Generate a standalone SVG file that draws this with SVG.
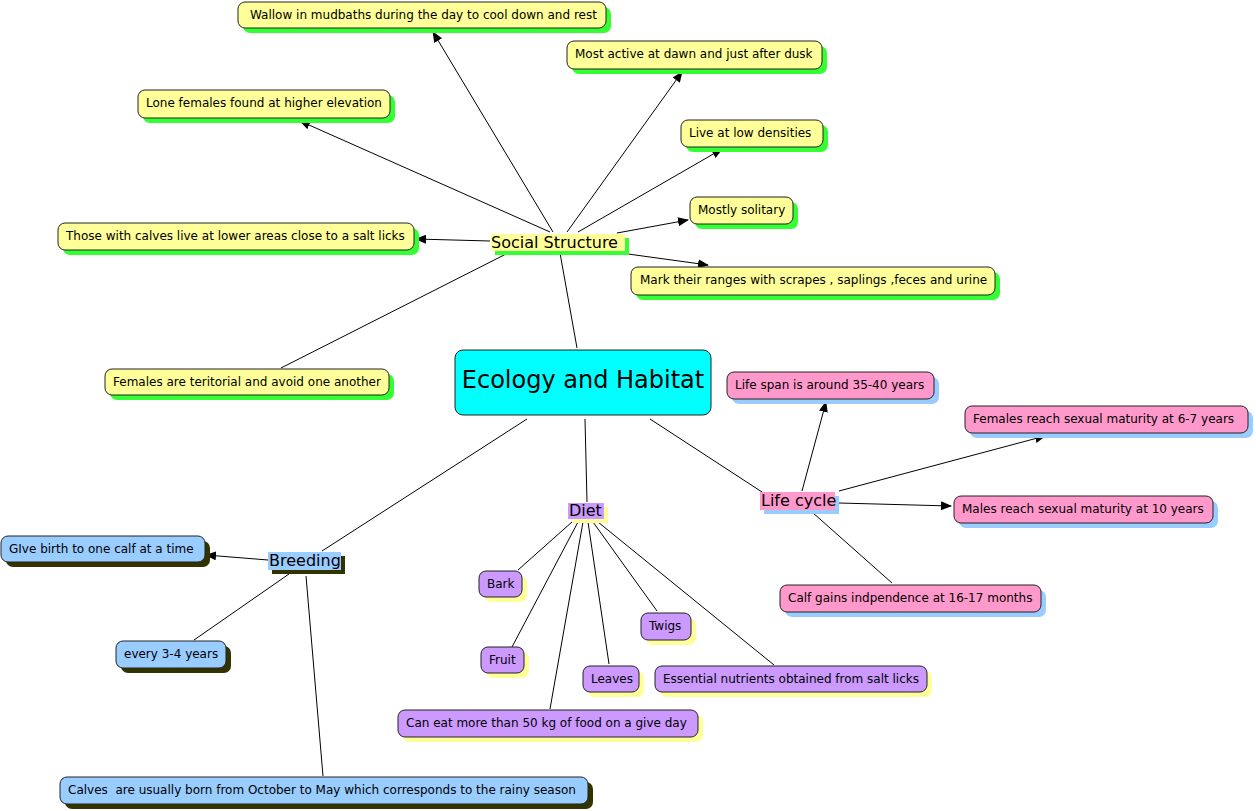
<svg xmlns="http://www.w3.org/2000/svg" width="1256" height="811" viewBox="0 0 1256 811">
<defs>
<marker id="arr" markerWidth="11" markerHeight="9" refX="10" refY="4.5" orient="auto" markerUnits="userSpaceOnUse">
<path d="M0,0 L11,4.5 L0,9 z" fill="#000"/>
</marker>
<style>
text{font-family:"DejaVu Sans","Verdana",sans-serif;fill:#000}
.t{font-size:12px}
.lbl{font-size:16px}
.main{font-size:24px}
.box{stroke:#222;stroke-width:1}
.y{fill:#FFFF99}.ys{fill:#33FF33}
.p{fill:#FF99CC}.ps{fill:#99CCFF}
.v{fill:#CC99FF}.vs{fill:#FFFF99}
.b{fill:#99CCFF}.bs{fill:#333300}
.c line{stroke:#000;stroke-width:1}
.c .a{marker-end:url(#arr)}
</style>
</defs>
<rect width="1256" height="811" fill="#fff"/>
<g class="c" id="connectors">
<line class="a" x1="553" y1="232" x2="433" y2="32"/>
<line class="a" x1="567" y1="232" x2="682" y2="72"/>
<line class="a" x1="550" y1="232" x2="300" y2="121"/>
<line class="a" x1="578" y1="232" x2="722" y2="149"/>
<line class="a" x1="617" y1="233" x2="688" y2="220"/>
<line class="a" x1="490" y1="241" x2="416" y2="239"/>
<line class="a" x1="628" y1="254" x2="708" y2="265"/>
<line x1="508" y1="253" x2="281" y2="368"/>
<line x1="560" y1="253" x2="577" y2="348"/>
<line x1="527" y1="419" x2="322" y2="551"/>
<line x1="585" y1="419" x2="587" y2="502"/>
<line x1="650" y1="419" x2="762" y2="492"/>
<line class="a" x1="802" y1="491" x2="826" y2="402"/>
<line class="a" x1="839" y1="491" x2="1045" y2="436"/>
<line class="a" x1="839" y1="503" x2="951" y2="506"/>
<line x1="812" y1="512" x2="892" y2="583"/>
<line x1="572" y1="522" x2="518" y2="570"/>
<line x1="578" y1="522" x2="512" y2="647"/>
<line x1="583" y1="522" x2="550" y2="709"/>
<line x1="588" y1="522" x2="609" y2="664"/>
<line x1="593" y1="522" x2="657" y2="611"/>
<line x1="598" y1="522" x2="774" y2="665"/>
<line class="a" x1="268" y1="560" x2="206" y2="555"/>
<line x1="289" y1="574" x2="194" y2="640"/>
<line x1="306" y1="576" x2="323" y2="776"/>
</g>
<g id="central">
<rect class="box" x="455" y="350" width="256" height="65" rx="8" fill="#00FFFF"/>
<text class="main" x="583" y="388" text-anchor="middle">Ecology and Habitat</text>
</g>
<g id="social-structure">
<rect class="ys" x="495" y="238" width="134" height="17"/>
<rect class="y" x="491" y="234" width="134" height="17"/>
<text class="lbl" x="491" y="248">Social Structure</text>
</g>
<g id="wallow">
<rect class="ys" x="243" y="7" width="368" height="26" rx="7"/>
<rect class="y box" x="238" y="2" width="368" height="26" rx="7"/>
<text class="t" x="250" y="19">Wallow in mudbaths during the day to cool down and rest</text>
</g>
<g id="most-active">
<rect class="ys" x="572" y="46" width="255" height="28" rx="7"/>
<rect class="y box" x="567" y="41" width="255" height="28" rx="7"/>
<text class="t" x="575" y="58">Most active at dawn and just after dusk</text>
</g>
<g id="lone-females">
<rect class="ys" x="143" y="95" width="252" height="28" rx="7"/>
<rect class="y box" x="138" y="90" width="252" height="28" rx="7"/>
<text class="t" x="146" y="107">Lone females found at higher elevation</text>
</g>
<g id="low-densities">
<rect class="ys" x="686" y="125" width="142" height="27" rx="7"/>
<rect class="y box" x="681" y="120" width="142" height="27" rx="7"/>
<text class="t" x="689" y="137">Live at low densities</text>
</g>
<g id="solitary">
<rect class="ys" x="695" y="202" width="103" height="27" rx="7"/>
<rect class="y box" x="690" y="197" width="103" height="27" rx="7"/>
<text class="t" x="698" y="214">Mostly solitary</text>
</g>
<g id="calves-lower">
<rect class="ys" x="63" y="228" width="356" height="27" rx="7"/>
<rect class="y box" x="58" y="223" width="356" height="27" rx="7"/>
<text class="t" x="66" y="240">Those with calves live at lower areas close to a salt licks</text>
</g>
<g id="mark-ranges">
<rect class="ys" x="636" y="272" width="364" height="28" rx="7"/>
<rect class="y box" x="631" y="267" width="364" height="28" rx="7"/>
<text class="t" x="640" y="284">Mark their ranges with scrapes , saplings ,feces and urine</text>
</g>
<g id="territorial">
<rect class="ys" x="110" y="374" width="284" height="26" rx="7"/>
<rect class="y box" x="105" y="369" width="284" height="26" rx="7"/>
<text class="t" x="113" y="386">Females are teritorial and avoid one another</text>
</g>
<g id="life-cycle">
<rect class="ps" x="764" y="496" width="75" height="18"/>
<rect class="p" x="760" y="492" width="75" height="18"/>
<text class="lbl" x="761" y="506">Life cycle</text>
</g>
<g id="life-span">
<rect class="ps" x="732" y="377" width="207" height="27" rx="7"/>
<rect class="p box" x="727" y="372" width="207" height="27" rx="7"/>
<text class="t" x="735" y="389">Life span is around 35-40 years</text>
</g>
<g id="females-maturity">
<rect class="ps" x="970" y="411" width="283" height="27" rx="7"/>
<rect class="p box" x="965" y="406" width="283" height="27" rx="7"/>
<text class="t" x="973" y="423">Females reach sexual maturity at 6-7 years</text>
</g>
<g id="males-maturity">
<rect class="ps" x="959" y="501" width="259" height="27" rx="7"/>
<rect class="p box" x="954" y="496" width="259" height="27" rx="7"/>
<text class="t" x="962" y="513">Males reach sexual maturity at 10 years</text>
</g>
<g id="calf-independence">
<rect class="ps" x="785" y="590" width="261" height="27" rx="7"/>
<rect class="p box" x="780" y="585" width="261" height="27" rx="7"/>
<text class="t" x="788" y="602">Calf gains indpendence at 16-17 months</text>
</g>
<g id="diet">
<rect class="vs" x="572" y="507" width="36" height="16"/>
<rect class="v" x="568" y="503" width="36" height="16"/>
<text class="lbl" x="569" y="516">Diet</text>
</g>
<g id="bark">
<rect class="vs" x="484" y="576" width="43" height="26" rx="7"/>
<rect class="v box" x="479" y="571" width="43" height="26" rx="7"/>
<text class="t" x="487" y="588">Bark</text>
</g>
<g id="fruit">
<rect class="vs" x="486" y="652" width="43" height="26" rx="7"/>
<rect class="v box" x="481" y="647" width="43" height="26" rx="7"/>
<text class="t" x="489" y="664">Fruit</text>
</g>
<g id="twigs">
<rect class="vs" x="646" y="618" width="50" height="27" rx="7"/>
<rect class="v box" x="641" y="613" width="50" height="27" rx="7"/>
<text class="t" x="649" y="630">Twigs</text>
</g>
<g id="leaves">
<rect class="vs" x="588" y="671" width="56" height="26" rx="7"/>
<rect class="v box" x="583" y="666" width="56" height="26" rx="7"/>
<text class="t" x="591" y="683">Leaves</text>
</g>
<g id="nutrients">
<rect class="vs" x="660" y="671" width="272" height="26" rx="7"/>
<rect class="v box" x="655" y="666" width="272" height="26" rx="7"/>
<text class="t" x="663" y="683">Essential nutrients obtained from salt licks</text>
</g>
<g id="eat-50kg">
<rect class="vs" x="403" y="715" width="300" height="27" rx="7"/>
<rect class="v box" x="398" y="710" width="300" height="27" rx="7"/>
<text class="t" x="406" y="727">Can eat more than 50 kg of food on a give day</text>
</g>
<g id="breeding">
<rect class="bs" x="272" y="556" width="73" height="18"/>
<rect class="b" x="268" y="552" width="73" height="18"/>
<text class="lbl" x="269" y="566">Breeding</text>
</g>
<g id="give-birth">
<rect class="bs" x="6" y="541" width="204" height="26" rx="7"/>
<rect class="b box" x="1" y="536" width="204" height="26" rx="7"/>
<text class="t" x="9" y="553">GIve birth to one calf at a time</text>
</g>
<g id="every-years">
<rect class="bs" x="121" y="646" width="110" height="27" rx="7"/>
<rect class="b box" x="116" y="641" width="110" height="27" rx="7"/>
<text class="t" x="124" y="658">every 3-4 years</text>
</g>
<g id="calves-born">
<rect class="bs" x="65" y="782" width="528" height="27" rx="7"/>
<rect class="b box" x="60" y="777" width="528" height="27" rx="7"/>
<text class="t" x="68" y="794" xml:space="preserve">Calves  are usually born from October to May which corresponds to the rainy season</text>
</g>
</svg>
